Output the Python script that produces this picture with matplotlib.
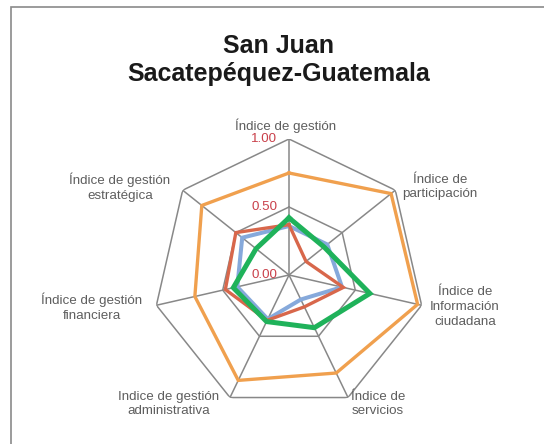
import numpy as np
import matplotlib
matplotlib.use("Agg")
import matplotlib.pyplot as plt
from matplotlib.patches import Rectangle
from matplotlib.transforms import offset_copy

categories = [
    "Índice de gestión",
    "Índice de\nparticipación",
    "Índice de\nInformación\nciudadana",
    "Índice de\nservicios",
    "Indice de gestión\nadministrativa",
    "Índice de gestión\nfinanciera",
    "Índice de gestión\nestratégica",
]
serie_naranja = [0.75, 0.96, 0.97, 0.80, 0.86, 0.71, 0.82]
serie_azul = [0.36, 0.36, 0.40, 0.20, 0.36, 0.39, 0.44]
serie_roja = [0.37, 0.16, 0.41, 0.26, 0.37, 0.48, 0.50]
serie_verde = [0.42, 0.33, 0.61, 0.43, 0.38, 0.42, 0.31]
ring_values = [0.0, 0.5, 1.0]
ring_labels = ["0.00", "0.50", "1.00"]
title = "San Juan\nSacatepéquez-Guatemala"

W, H = 544, 444
fig = plt.figure(figsize=(W / 100, H / 100), dpi=100)

# frame (clipped at right and bottom like the reference)
fig.patches.append(Rectangle((11 / W, -0.05), 1.2, 1 - 7 / H + 0.05, transform=fig.transFigure,
                             fill=False, edgecolor="#8a8a8a", linewidth=1.2))

cx, cy, R = 289, 275, 136
ax = fig.add_axes([(cx - R) / W, (H - cy - R) / H, 2 * R / W, 2 * R / H], projection="polar")
ax.set_theta_zero_location("N")
ax.set_theta_direction(-1)
ax.set_ylim(0, 1)
ax.grid(False)
ax.set_xticks([])
ax.set_yticks([])
ax.spines["polar"].set_visible(False)
ax.patch.set_alpha(0)

n = len(categories)
angles = np.arange(n) * 2 * np.pi / n
closed = np.append(angles, angles[0])

grid_col = "#888888"
for rv in ring_values[1:]:
    ax.plot(closed, [rv] * (n + 1), color=grid_col, lw=1.1, zorder=1)
for a in angles:
    ax.plot([a, a], [0, 1], color=grid_col, lw=1.1, zorder=1)

def draw(vals, color, lw, z):
    v = list(vals) + [vals[0]]
    ax.plot(closed, v, color=color, lw=lw, zorder=z, solid_joinstyle="miter", clip_on=False)

draw(serie_naranja, "#F0A04E", 2.4, 3)
draw(serie_azul, "#86A9DB", 2.9, 4)
draw(serie_roja, "#D8674B", 2.4, 5)
draw(serie_verde, "#1FB25A", 3.6, 6)

tick_tr = offset_copy(ax.transData, fig=fig, x=-12, y=0, units="dots")
for rv, lab in zip(ring_values, ring_labels):
    ax.text(0, rv, lab, transform=tick_tr, ha="right", va="center", color="#C9404A",
            fontsize=9.6, fontfamily="Liberation Sans", zorder=10)

label_pos = [(286, 126), (440, 187), (465, 307), (378, 404), (169, 404), (92, 307), (120, 187)]
for lab, (px, py) in zip(categories, label_pos):
    fig.text(px / W, 1 - py / H, lab, ha="center", va="center", color="#5e5e5e",
             fontsize=9.6, fontfamily="Liberation Sans", linespacing=1.28, multialignment="center")

fig.text(278.5 / W, 1 - 60 / H, title, ha="center", va="center", fontsize=18, fontweight="bold",
         fontfamily="Liberation Sans", color="#1a1a1a", linespacing=1.18)

fig.savefig("out.png", dpi=100)
